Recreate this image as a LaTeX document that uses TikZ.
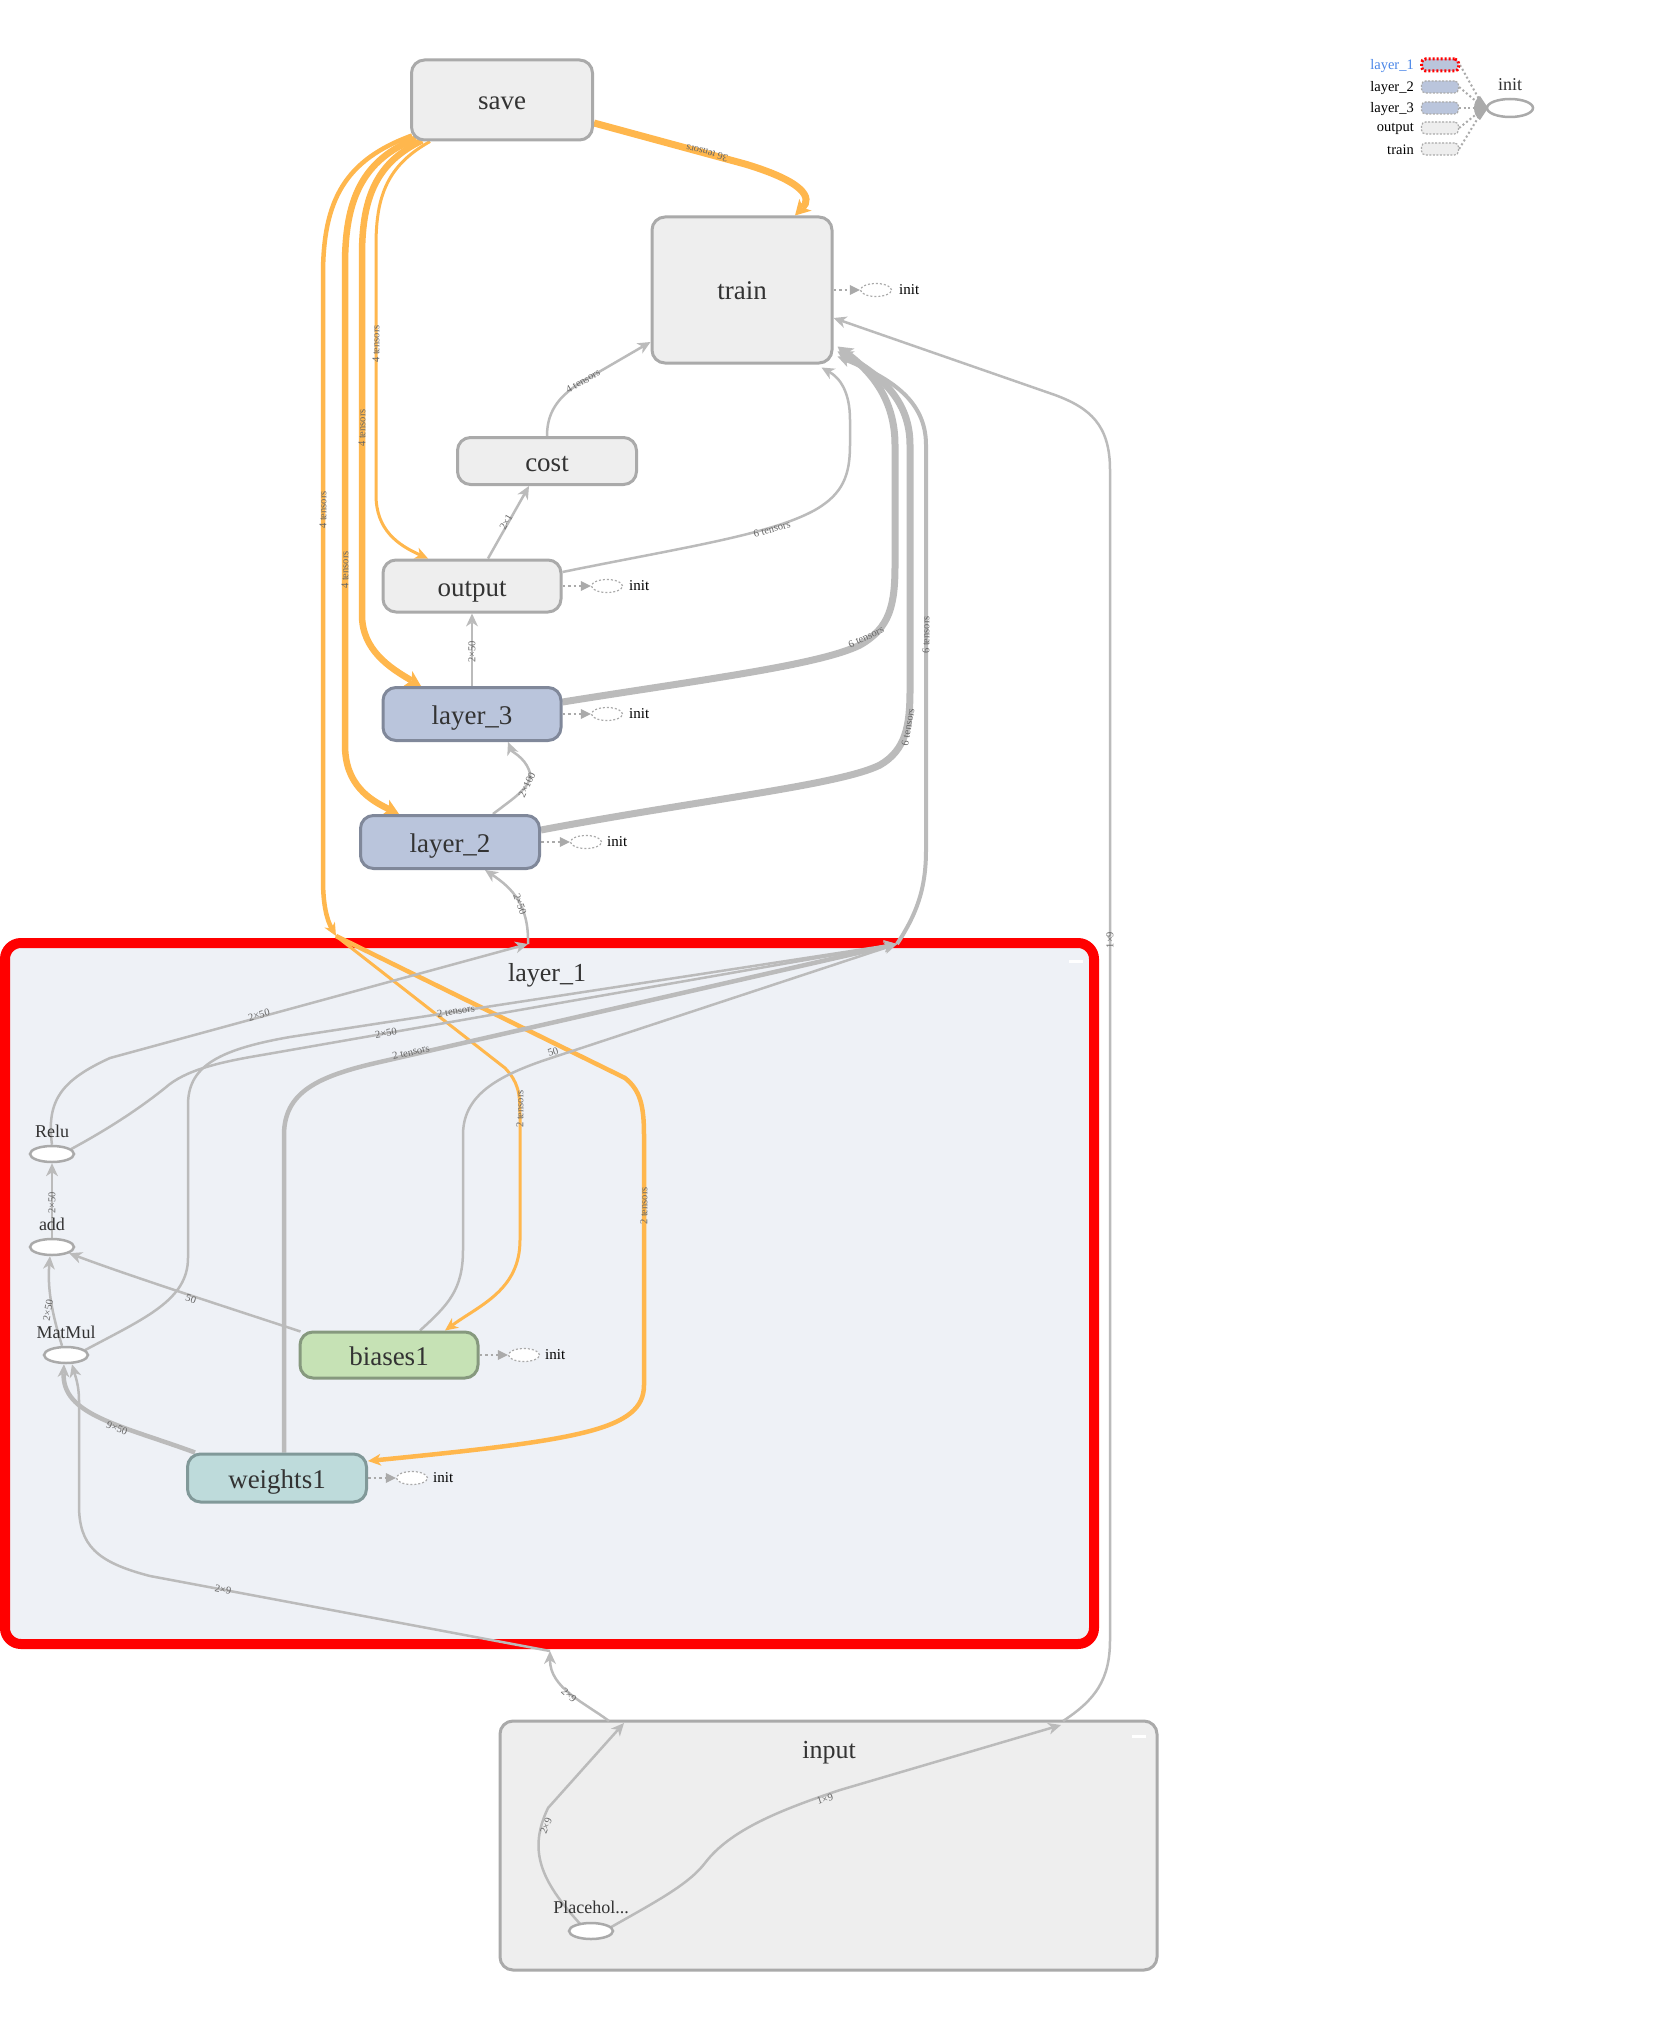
\documentclass[tikz,border=0pt]{standalone}
\usepackage{fontspec}
\setmainfont{Liberation Serif}
\usetikzlibrary{arrows.meta,shapes.geometric,calc}
\pgfdeclarelayer{groups}
\pgfdeclarelayer{edges}
\pgfsetlayers{groups,edges,main}
\definecolor{egray}{HTML}{BBBBBB}
\definecolor{eorange}{HTML}{FFB74D}
\definecolor{nfill}{HTML}{EEEEEE}
\definecolor{nstroke}{HTML}{AAAAAA}
\definecolor{lfill}{HTML}{BAC5DC}
\definecolor{lstroke}{HTML}{80889A}
\definecolor{bfill}{HTML}{C6E2B5}
\definecolor{bstroke}{HTML}{86997E}
\definecolor{wfill}{HTML}{BEDBDB}
\definecolor{wstroke}{HTML}{819999}
\definecolor{gfill}{HTML}{EEF1F6}
\definecolor{txt}{HTML}{333333}
\definecolor{lblc}{HTML}{666666}
\definecolor{legblue}{HTML}{4A86E8}
\tikzset{
  fs/.style={font=\fontsize{#1}{#1}\selectfont},
  opbox/.style={draw=nstroke, fill=nfill, line width=3pt, rounded corners=13pt, fs=27, text=txt, inner sep=0pt, text height=20pt, text depth=0pt},
  layerbox/.style={opbox, draw=lstroke, fill=lfill},
  biasbox/.style={opbox, draw=bstroke, fill=bfill},
  wbox/.style={opbox, draw=wstroke, fill=wfill},
  opell/.style={ellipse, draw=nstroke, fill=white, line width=2.5pt, minimum width=44pt, minimum height=16pt, inner sep=0pt},
  oplabel/.style={fs=18, text=txt, inner sep=0pt},
  initell/.style={ellipse, draw=nstroke, fill=white, dash pattern=on 2pt off 2pt, line width=1.2pt, minimum width=31pt, minimum height=13pt, inner sep=0pt},
  inittext/.style={fs=15, text=black, inner sep=0pt, anchor=west},
  initedge/.style={draw=nstroke, line width=2.5pt, dash pattern=on 2.5pt off 3pt, -{Triangle[length=10pt,width=10pt,line width=0pt]}},
  etip/.style={-{Stealth[length=13pt,width=12pt,inset=4pt,line width=0pt]}},
  etipb/.style={-{Stealth[length=15pt,width=17pt,inset=4pt,line width=0pt]}},
  gedge/.style={draw=egray, line width=#1, etip},
  gedgeb/.style={draw=egray, line width=#1, etipb},
  oedge/.style={draw=eorange, line width=#1, etip},
  oedgeb/.style={draw=eorange, line width=#1, etipb},
  elabel/.style={fs=10.5, text=lblc, inner sep=0pt},
  legbox/.style={draw=nstroke, dash pattern=on 2pt off 1.5pt, line width=1.2pt, rounded corners=4pt, minimum width=37pt, minimum height=12pt, inner sep=0pt},
  legtext/.style={fs=14.5, text=black, anchor=east, inner sep=0pt},
  legdot/.style={draw=nstroke, line width=2pt, dash pattern=on 2pt off 2.5pt},
}
\begin{document}
\begin{tikzpicture}[x=1pt,y=-1pt]
\useasboundingbox (0,0) rectangle (1652,2033);

% ---------- groups ----------
\begin{pgfonlayer}{groups}
\fill[white] (0,0) rectangle (1652,2033);
\node[draw=red, fill=gfill, line width=10pt, rounded corners=16pt, minimum width=1089pt, minimum height=701pt, inner sep=0pt] (layer1) at (549.5,1293.5) {};
\node[fs=26, text=txt] (layer1title) at (547,975) {layer\_1};
\fill[white] (1069,959.5) rectangle (1083,962.5);
\node[draw=nstroke, fill=nfill, line width=3pt, rounded corners=13pt, minimum width=657pt, minimum height=249pt, inner sep=0pt] (inputgrp) at (828.5,1845.5) {};
\node[fs=26, text=txt] (inputtitle) at (829,1753) {input};
\fill[white] (1132,1734.5) rectangle (1146,1737.5);
\end{pgfonlayer}

% ---------- nodes ----------
\node[opbox, minimum width=181pt, minimum height=80pt] (save) at (502,100) {save};
\node[opbox, minimum width=180pt, minimum height=146pt] (train) at (742,290) {train};
\node[opbox, minimum width=179pt, minimum height=47pt] (cost) at (547,461) {cost};
\node[opbox, minimum width=178pt, minimum height=52pt] (output) at (472,586) {output};
\node[layerbox, minimum width=178pt, minimum height=53pt] (layer3) at (472,714) {layer\_3};
\node[layerbox, minimum width=179pt, minimum height=53pt] (layer2) at (450,842) {layer\_2};
\node[biasbox, minimum width=178pt, minimum height=46pt] (biases1) at (389,1355) {biases1};
\node[wbox, minimum width=179pt, minimum height=48pt] (weights1) at (277,1478) {weights1};

\node[opell] (relu) at (52,1154) {};
\node[oplabel] (relulbl) at (52,1131) {Relu};
\node[opell] (add) at (52,1247) {};
\node[oplabel] (addlbl) at (52,1224) {add};
\node[opell] (matmul) at (66,1355) {};
\node[oplabel] (matmullbl) at (66,1332) {MatMul};
\node[opell] (ph) at (591,1931) {};
\node[oplabel] (phlbl) at (591,1907) {Placehol...};

% init satellites
\node[initell] (traininit) at (876,290) {};
\node[inittext] (traininitlbl) at (899,290) {init};
\node[initell] (outputinit) at (607,586) {};
\node[inittext] (outputinitlbl) at (629,586) {init};
\node[initell] (layer3init) at (607,714) {};
\node[inittext] (layer3initlbl) at (629,714) {init};
\node[initell] (layer2init) at (586,842) {};
\node[inittext] (layer2initlbl) at (607,842) {init};
\node[initell] (biasinit) at (524,1355) {};
\node[inittext] (biasinitlbl) at (545,1355) {init};
\node[initell] (winit) at (412,1478) {};
\node[inittext] (winitlbl) at (433,1478) {init};

% group boundary points
\coordinate (l1or) at (336,936);
\coordinate (l1tl) at (528,944);
\coordinate (l1tr) at (897,944);
\coordinate (l1b) at (550,1651);
\coordinate (ina) at (624,1723);
\coordinate (ina2) at (609,1721);
\coordinate (inb) at (1063,1721);
\coordinate (inb2) at (1061,1725);

% ---------- legend ----------
\node[legtext, text=legblue] (lg1t) at (1414,66) {layer\_1};
\node[legbox, draw=red, line width=3pt, dash pattern=on 2pt off 2pt, fill=lfill] (lg1) at (1440,65) {};
\node[legtext] (lg2t) at (1414,88) {layer\_2};
\node[legbox, fill=lfill] (lg2) at (1440,87) {};
\node[legtext] (lg3t) at (1414,109) {layer\_3};
\node[legbox, fill=lfill] (lg3) at (1440,108) {};
\node[legtext] (lg4t) at (1414,129) {output};
\node[legbox, fill=nfill] (lg4) at (1440,128) {};
\node[legtext] (lg5t) at (1414,150) {train};
\node[legbox, fill=nfill] (lg5) at (1440,149) {};
\node[ellipse, draw=nstroke, line width=2.5pt, minimum width=46pt, minimum height=18pt, inner sep=0pt] (leginit) at (1510,108) {};
\node[fs=18, text=txt, inner sep=0pt] (leginitlbl) at (1510,85) {init};
\coordinate (legjoin) at (1484,108);
\fill[nstroke] (1488,108) -- (1480,96) .. controls (1472,101) and (1472,115) .. (1480,120) -- cycle;

% ---------- edges ----------
\begin{pgfonlayer}{edges}
\draw[legdot] (lg1.east) -- (legjoin);
\draw[legdot] (lg2.east) -- (legjoin);
\draw[legdot] (lg3.east) -- (legjoin);
\draw[legdot] (lg4.east) -- (legjoin);
\draw[legdot] (lg5.east) -- (legjoin);

% init edges
\draw[initedge] (train.east) -- (traininit.west);
\draw[initedge] (output.east) -- (outputinit.west);
\draw[initedge] (layer3.east) -- (layer3init.west);
\draw[initedge] (layer2.east) -- (layer2init.west);
\draw[initedge] (biases1.east) -- (biasinit.west);
\draw[initedge] (weights1.east) -- (winit.west);

% orange (save) edges
\draw[oedgeb=7pt] ($(save.east)+(0,23)$) -- (745,164) .. controls (805,182) and (812,198) .. ($(train.north)+(53,0)$);
\draw[oedge=3pt] ($(save.south west)+(20,0)$) .. controls (388,165) and (376,195) .. (376,245) -- (376,495) .. controls (376,530) and (398,545) .. ($(output.north)+(-44,0)$);
\draw[oedgeb=6.5pt] ($(save.south west)+(12,-1)$) .. controls (378,162) and (362,195) .. (362,255) -- (362,615) .. controls (362,650) and (390,668) .. ($(layer3.north)+(-51,0)$);
\draw[oedgeb=6.5pt] ($(save.south west)+(6,-3)$) .. controls (362,160) and (345,200) .. (345,265) -- (345,745) .. controls (345,785) and (370,800) .. ($(layer2.north)+(-51,0)$);
\draw[oedge=4.5pt] ($(save.south west)+(2,-6)$) .. controls (345,160) and (323,200) .. (323,275) -- (323,880) .. controls (323,905) and (327,920) .. (l1or);
\draw[oedge=3pt] (l1or) -- (505,1068) .. controls (518,1082) and (520,1092) .. (520,1115) -- (520,1240) .. controls (520,1290) and (480,1305) .. ($(biases1.north)+(56,0)$);
\draw[oedge=4.5pt] (l1or) -- (625,1078) .. controls (640,1090) and (644,1105) .. (644,1135) -- (644,1385) .. controls (644,1430) and (580,1440) .. ($(weights1.east)+(0,-17)$);

% gray edges (top part)
\draw[gedge=2.5pt] (cost.north) .. controls (547,410) and (560,393) .. (592,376) -- ($(train.west)+(0,52)$);
\draw[gedge=2.5pt] ($(output.north)+(16,0)$) -- ($(cost.south)+(-18,0)$);
\draw[gedge=2.5pt] ($(output.east)+(0,-14)$) .. controls (680,548) and (770,535) .. (815,510) .. controls (843,494) and (850,475) .. (850,445) -- (850,420) .. controls (850,392) and (840,378) .. ($(train.south east)+(-12,3)$);
\draw[gedge=2.5pt] (layer3.north) -- (output.south);
\draw[gedgeb=7pt] ($(layer3.east)+(0,-12)$) .. controls (700,680) and (820,665) .. (860,645) .. controls (890,628) and (895,605) .. (895,565) -- (895,445) .. controls (895,400) and (872,372) .. ($(train.south east)+(4,-18)$);
\draw[gedge=2.5pt] ($(layer2.north)+(43,0)$) .. controls (515,797) and (535,785) .. (529,770) .. controls (524,757) and (512,752) .. ($(layer3.south)+(36,0)$);
\draw[gedgeb=7pt] ($(layer2.east)+(0,-12)$) .. controls (700,800) and (840,785) .. (880,765) .. controls (906,750) and (910,725) .. (910,690) -- (910,445) .. controls (910,400) and (880,375) .. ($(train.south east)+(4,-13)$);
\draw[gedge=4pt] (l1tr) .. controls (916,915) and (926,890) .. (926,850) -- (926,445) .. controls (926,400) and (890,378) .. ($(train.south east)+(4,-8)$);
\draw[gedge=2.5pt] (inb) .. controls (1095,1700) and (1110,1680) .. (1110,1640) -- (1110,470) .. controls (1110,425) and (1090,408) .. (1055,395) -- ($(train.east)+(0,28)$);
\draw[gedge=2.5pt] (l1tl) .. controls (529,905) and (512,888) .. ($(layer2.south)+(35,0)$);
\draw[gedge=2.5pt] (ina2) .. controls (585,1703) and (550,1688) .. (l1b);

% gray edges inside layer_1
\draw[gedge=2.5pt] (relu.north) .. controls (46,1100) and (62,1080) .. (110,1058) -- (l1tl);
\draw[gedge=2.5pt] ($(relu.east)+(-4,-5)$) .. controls (110,1128) and (140,1108) .. (165,1088) .. controls (185,1070) and (220,1062) .. (262,1055) -- (l1tr);
\draw[gedge=2.5pt] ($(matmul.east)+(-4,-5)$) .. controls (145,1318) and (188,1300) .. (188,1258) -- (188,1105) .. controls (188,1068) and (215,1050) .. (290,1037) -- (l1tr);
\draw[gedge=4.5pt] ($(weights1.north)+(7,0)$) -- (284,1135) .. controls (284,1092) and (318,1076) .. (380,1062) -- (l1tr);
\draw[gedge=2.5pt] ($(biases1.north)+(31,0)$) .. controls (448,1305) and (463,1290) .. (463,1250) -- (463,1135) .. controls (463,1098) and (492,1078) .. (545,1060) -- (l1tr);
\draw[gedge=2.5pt] (add.north) -- (relu.south);
\draw[gedge=2.5pt] ($(matmul.north)+(-4,0)$) .. controls (54,1320) and (47,1292) .. ($(add.south)+(-2,0)$);
\draw[gedge=2.5pt] ($(biases1.north west)+(2,1)$) .. controls (220,1305) and (130,1276) .. (add.-20);
\draw[gedge=4.5pt] ($(weights1.north west)+(9,0)$) .. controls (120,1425) and (62,1415) .. ($(matmul.south)+(-2,0)$);
\draw[gedge=2.5pt] (l1b) -- (150,1576) .. controls (96,1562) and (79,1545) .. (79,1505) -- (79,1400) .. controls (79,1385) and (75,1375) .. ($(matmul.south)+(6,0)$);

% gray edges inside input
\draw[gedge=2.5pt] ($(ph.north)+(-11,2)$) .. controls (540,1880) and (528,1850) .. (548,1808) -- (ina);
\draw[gedge=2.5pt] ($(ph.east)+(-3,-4)$) .. controls (655,1902) and (688,1885) .. (705,1863) .. controls (730,1830) and (780,1810) .. (840,1790) -- (inb2);

% edge labels
\node[elabel, rotate=165] (e1) at (707,153) {36 tensors};
\node[elabel, rotate=90] (e2) at (376,344) {4 tensors};
\node[elabel, rotate=90] (e3) at (362,428) {4 tensors};
\node[elabel, rotate=90] (e4) at (345,570) {4 tensors};
\node[elabel, rotate=90] (e5) at (323,510) {4 tensors};
\node[elabel, rotate=90] (e6) at (520,1109) {2 tensors};
\node[elabel, rotate=90] (e7) at (644,1206) {2 tensors};
\node[elabel, rotate=30] (e8) at (583,381) {4 tensors};
\node[elabel, rotate=61] (e9) at (506,522) {2×1};
\node[elabel, rotate=15] (e10) at (772,529) {6 tensors};
\node[elabel, rotate=90] (e11) at (472,652) {2×50};
\node[elabel, rotate=25] (e12) at (866,637) {6 tensors};
\node[elabel, rotate=65] (e13) at (527,785) {2×100};
\node[elabel, rotate=80] (e14) at (908,727) {6 tensors};
\node[elabel, rotate=90] (e15) at (926,635) {6 tensors};
\node[elabel, rotate=90] (e16) at (1110,940) {1×9};
\node[elabel, rotate=-70] (e17) at (520,904) {2×50};
\node[elabel, rotate=-42] (e18) at (569,1695) {2×9};
\node[elabel, rotate=15] (e19) at (259,1015) {2×50};
\node[elabel, rotate=10] (e20) at (386,1033) {2×50};
\node[elabel, rotate=9] (e21) at (456,1011) {2 tensors};
\node[elabel, rotate=13] (e22) at (411,1052) {2 tensors};
\node[elabel, rotate=18] (e23) at (553,1052) {50};
\node[elabel, rotate=90] (e24) at (52,1203) {2×50};
\node[elabel, rotate=80] (e25) at (48,1310) {2×50};
\node[elabel, rotate=-18] (e26) at (191,1299) {50};
\node[elabel, rotate=-22] (e27) at (117,1428) {9×50};
\node[elabel, rotate=-11] (e28) at (223,1590) {2×9};
\node[elabel, rotate=68] (e29) at (546,1826) {2×9};
\node[elabel, rotate=17] (e30) at (825,1799) {1×9};
\end{pgfonlayer}
\end{tikzpicture}
\end{document}
